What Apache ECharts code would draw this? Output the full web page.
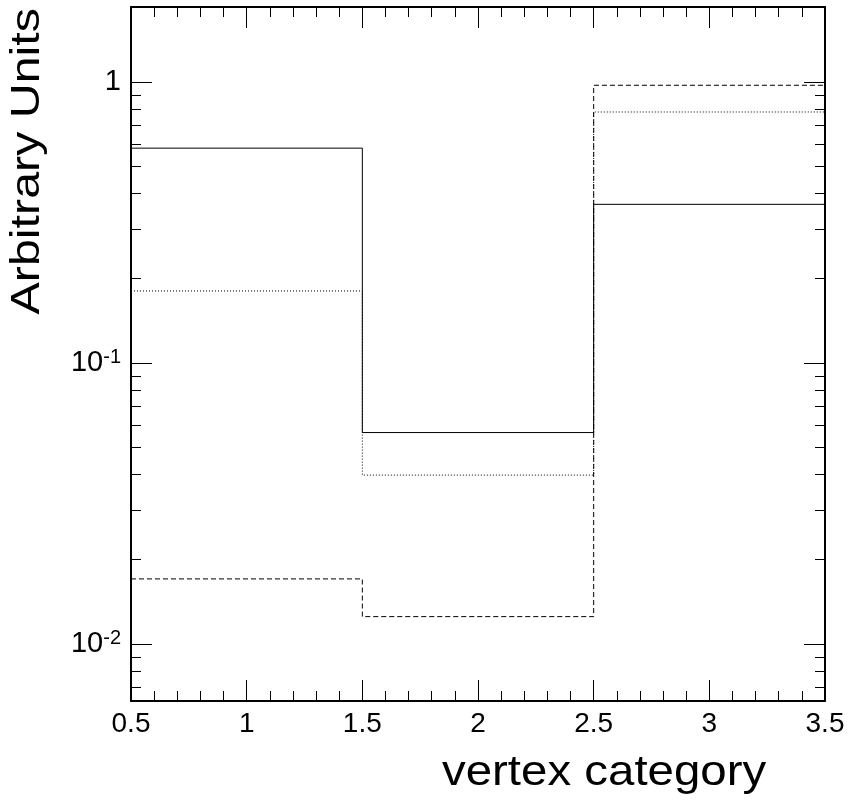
<!DOCTYPE html>
<html>
<head>
<meta charset="utf-8">
<script src="https://cdn.jsdelivr.net/npm/echarts@6/dist/echarts.min.js"></script>
<style>
  html, body { margin: 0; padding: 0; background: #fff; }
  #chart { width: 851px; height: 803px; }
</style>
</head>
<body>
<div id="chart"></div>
<script>
// bin edges of the histogram (vertex category)
const binEdges = [0.5, 1.5, 2.5, 3.5];
// bin contents
const solidValues = [0.580, 0.0564, 0.366];
const dottedValues = [0.180, 0.0398, 0.780];
const dashedValues = [0.0170, 0.01248, 0.971];

// log axis ticks
const yMajorTicks = [0.01, 0.1, 1];
const yMajorLabels = ['{b|10}{s|-2}', '{b|10}{s|-1}', '{b|1}'];
const yMinorTicks = [0.007, 0.008, 0.009,
  0.02, 0.03, 0.04, 0.05, 0.06, 0.07, 0.08, 0.09,
  0.2, 0.3, 0.4, 0.5, 0.6, 0.7, 0.8, 0.9];

const yMin = 0.00625;
const yMax = 1.844;
const FONT = '"Liberation Sans", Arial, Helvetica, sans-serif';

// step outline: horizontal across each bin, vertical at the inner edges
function stepPoints(values) {
  const pts = [];
  values.forEach((v, i) => {
    pts.push([binEdges[i], v]);
    pts.push([binEdges[i + 1], v]);
  });
  return pts;
}

const tickData = [];
yMajorTicks.forEach((v, i) => tickData.push([0.5, v, 1, i]));
yMinorTicks.forEach(v => tickData.push([0.5, v, 0, -1]));

const chart = echarts.init(document.getElementById('chart'));

const xAxisBase = {
  type: 'value',
  min: 0.5,
  max: 3.5,
  interval: 0.5,
  axisLine: { show: true, onZero: false, lineStyle: { color: '#000', width: 2 } },
  axisTick: { show: true, inside: true, length: 21, lineStyle: { color: '#000', width: 1 } },
  minorTick: { show: true, splitNumber: 5, length: 10, lineStyle: { color: '#000', width: 1 } },
  splitLine: { show: false },
  minorSplitLine: { show: false }
};

const option = {
  animation: false,
  backgroundColor: '#fff',
  grid: { left: 131, right: 26, top: 7, bottom: 102 },
  xAxis: [
    Object.assign({}, xAxisBase, {
      position: 'bottom',
      axisLabel: {
        show: true, color: '#000', fontSize: 28, fontFamily: FONT, margin: 9,
        formatter: v => String(v)
      }
    }),
    Object.assign({}, xAxisBase, {
      position: 'top',
      axisLabel: { show: false }
    })
  ],
  yAxis: [
    {
      type: 'log', logBase: 10, min: yMin, max: yMax, position: 'left',
      axisLine: { show: true, onZero: false, lineStyle: { color: '#000', width: 2 } },
      axisTick: { show: false }, axisLabel: { show: false }, splitLine: { show: false }
    },
    {
      type: 'log', logBase: 10, min: yMin, max: yMax, position: 'right',
      axisLine: { show: true, onZero: false, lineStyle: { color: '#000', width: 2 } },
      axisTick: { show: false }, axisLabel: { show: false }, splitLine: { show: false }
    }
  ],
  graphic: [
    {
      // the original font runs wider than Liberation Sans, so stretch it a little
      type: 'text', x: 442, y: 774, scaleX: 1.14,
      style: { text: 'vertex category', fill: '#000', font: '41.6px ' + FONT, align: 'left', verticalAlign: 'middle' }
    },
    {
      type: 'text', x: 28, y: 8, rotation: Math.PI / 2, scaleX: 1.18,
      style: { text: 'Arbitrary Units', fill: '#000', font: '41px ' + FONT, align: 'right', verticalAlign: 'middle' }
    }
  ],
  series: [
    {
      type: 'custom',
      coordinateSystem: 'cartesian2d',
      xAxisIndex: 0, yAxisIndex: 0,
      data: tickData,
      encode: { x: 0, y: 1 },
      silent: true,
      clip: false,
      renderItem: function (params, api) {
        const v = api.value(1);
        const major = api.value(2) === 1;
        const left = api.coord([0.5, v]);
        const right = api.coord([3.5, v]);
        const len = major ? 21 : 10;
        const y = Math.round(left[1]) + 0.5;
        const children = [
          { type: 'line', shape: { x1: left[0], y1: y, x2: left[0] + len, y2: y }, style: { stroke: '#000', lineWidth: 1 } },
          { type: 'line', shape: { x1: right[0], y1: y, x2: right[0] - len, y2: y }, style: { stroke: '#000', lineWidth: 1 } }
        ];
        if (major) {
          children.push({
            type: 'text',
            style: {
              text: yMajorLabels[api.value(3)],
              x: left[0] - 10, y: left[1],
              align: 'right', verticalAlign: 'middle',
              rich: {
                b: { fontSize: 29, fontFamily: FONT, fill: '#000', lineHeight: 30 },
                s: { fontSize: 20, fontFamily: FONT, fill: '#000', verticalAlign: 'top', lineHeight: 20 }
              }
            }
          });
        }
        return { type: 'group', children: children };
      }
    },
    {
      name: 'solid', type: 'line', data: stepPoints(solidValues), showSymbol: false,
      lineStyle: { color: '#000', width: 1, type: 'solid' }
    },
    {
      name: 'dotted', type: 'line', data: stepPoints(dottedValues), showSymbol: false,
      lineStyle: { color: '#000', width: 1, type: [1, 2] }
    },
    {
      name: 'dashed', type: 'line', data: stepPoints(dashedValues), showSymbol: false,
      lineStyle: { color: '#000', width: 1, type: [5, 3] }
    }
  ]
};

chart.setOption(option);
</script>
</body>
</html>
